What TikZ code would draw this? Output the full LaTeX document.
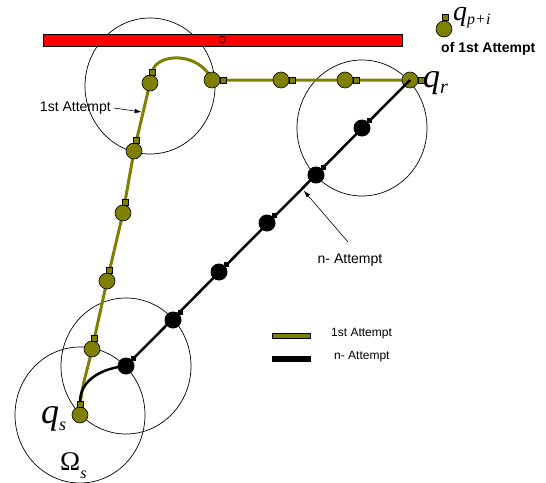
\documentclass[tikz,border=0pt]{standalone}
\usepackage{fontspec}
\setmainfont{Liberation Sans}
\newfontfamily\tms{Liberation Serif}
\usetikzlibrary{arrows.meta,backgrounds,calc}
\definecolor{olivec}{RGB}{128,128,0}
\pgfdeclarelayer{bg}
\pgfdeclarelayer{onl}
\pgfdeclarelayer{bln}
\pgfsetlayers{bg,onl,bln,main}
\begin{document}
\begin{tikzpicture}[x=1pt,y=-1pt,
  onode/.style={circle,draw=black,line width=0.6pt,fill=olivec,minimum size=16pt,inner sep=0pt},
  bnode/.style={circle,fill=black,minimum size=17pt,inner sep=0pt},
  osq/.style={rectangle,draw=black,line width=0.5pt,fill=olivec,minimum size=6pt,inner sep=0pt},
  bsq/.style={rectangle,fill=black,minimum size=5pt,inner sep=0pt},
  oline/.style={draw=olivec,line width=3pt},
  bline/.style={draw=black,line width=2.5pt},
  ring/.style={draw=black,line width=0.7pt},
  lbl/.style={font=\fontsize{14}{16}\selectfont,inner sep=0pt},
  leglbl/.style={font=\fontsize{12}{14}\selectfont,inner sep=0pt,anchor=west},
  legbox/.style={draw=black,line width=0.5pt,minimum width=38pt,minimum height=5.5pt,inner sep=0pt},
  pointer/.style={draw=black,line width=0.6pt,-{Latex[length=7pt,width=4.5pt]}},
  qtxt/.style={inner sep=0pt,anchor=base west}]
\useasboundingbox (0,0) rectangle (546,482);

% olive nodes (1st attempt)
\begin{pgfonlayer}{onl}
\node[onode] (qs) at (80,415) {};
\node[onode] (o1) at (92,349) {};
\node[onode] (o2) at (107,281) {};
\node[onode] (o3) at (123,213) {};
\node[onode] (o4) at (134,151) {};
\node[onode] (o5) at (150,83) {};
\node[onode] (o6) at (212,80) {};
\node[onode] (o7) at (281,80) {};
\node[onode] (o8) at (345,80) {};
\node[onode] (qr) at (410,80) {};
\node[osq] (sqs) at (80,404) {};
\node[osq] (s1) at (94.4,338.3) {};
\node[osq] (s2) at (109.5,270.3) {};
\node[osq] (s3) at (125,202) {};
\node[osq] (s4) at (136.5,140.3) {};
\node[osq] (s5) at (152,72) {};
\node[osq] (s6) at (223,80) {};
\node[osq] (s7) at (292,80) {};
\node[osq] (s8) at (356,80) {};
\node[osq] (sqr) at (421,80) {};
% legend marker
\node[osq] (lsq) at (445,17.5) {};
\node[onode] (lnode) at (444,29) {};
\end{pgfonlayer}

% black nodes (n- attempt)
\node[bnode] (b1) at (126,366) {};
\node[bnode] (b2) at (173,320) {};
\node[bnode] (b3) at (219,272) {};
\node[bnode] (b4) at (267,223) {};
\node[bnode] (b5) at (316,175) {};
\node[bnode] (b6) at (362,128) {};
\node[bsq] (t1) at ($(b1)+(7.5,-7.5)$) {};
\node[bsq] (t2) at ($(b2)+(7.5,-7.5)$) {};
\node[bsq] (t3) at ($(b3)+(7.5,-7.5)$) {};
\node[bsq] (t4) at ($(b4)+(7.5,-7.5)$) {};
\node[bsq] (t5) at ($(b5)+(7.5,-7.5)$) {};
\node[bsq] (t6) at ($(b6)+(7.5,-7.5)$) {};

% circles, obstacle and olive path
\begin{pgfonlayer}{bg}
\draw[ring] ($(o5.center)+(0,3)$) ellipse [x radius=65, y radius=68];
\draw[ring] (b6.center) ellipse [x radius=65, y radius=68];
\draw[ring] (qs.center) ellipse [x radius=65, y radius=68];
\draw[ring] (b1.center) ellipse [x radius=65, y radius=68];
\node[draw=black,fill=red,line width=0.6pt,minimum width=359pt,minimum height=12pt,inner sep=0pt,
      font=\fontsize{10}{10}\selectfont] (bar) at (222.5,40) {O};
\draw[oline] (qs.center) to[out=90,in=-102] (o1.center) -- (o2.center) -- (o3.center)
   -- (o4.center) -- (o5.center);
\draw[oline] (s5.center) .. controls (157,52) and (200,52) .. (o6.center)
   -- (o7.center) -- (o8.center) -- (qr.center);
\end{pgfonlayer}

% black path
\begin{pgfonlayer}{bln}
\coordinate (bstart) at (80,402);
\draw[bline] (bstart) to[out=90,in=185] (b1.center) -- (qr.center);
\end{pgfonlayer}

% labels
\node[lbl,anchor=east] (lab1) at (111,108) {1st Attempt};
\coordinate (p1) at ($(o4.center)!0.57!(o5.center)$);
\draw[pointer,shorten >=1.5pt] ($(lab1.east)+(3,0)$) -- (p1);

\node[lbl] (lab2) at (350,260) {n- Attempt};
\coordinate (a2s) at (348,242);
\coordinate (p2) at ($(b1.center)!0.62!(qr.center)$);
\draw[pointer,shorten >=2.5pt] (a2s) -- (p2);

% legend
\node[legbox,fill=olivec] (lg1) at (291,335.5) {};
\node[legbox,fill=black] (lg2) at (291,358.5) {};
\node[leglbl] (lt1) at (331,334) {1st Attempt};
\node[leglbl] (lt2) at (334,357) {n- Attempt};

% math-like labels
\node[qtxt] (lqpi) at (453,20) {{\tms\fontsize{28}{28}\selectfont\itshape q}\raisebox{-4pt}{\tms\fontsize{16}{16}\selectfont\itshape p+i}};
\node[inner sep=0pt,anchor=west,font=\fontsize{14}{16}\selectfont\bfseries] (lof) at (441,48.5) {of 1st Attempt};
\node[qtxt] (lqr) at (423,87) {{\tms\fontsize{34}{34}\selectfont\itshape q}\raisebox{-6pt}{\tms\fontsize{20}{20}\selectfont\itshape r}};
\node[qtxt] (lqs) at (41,423) {{\tms\fontsize{36}{36}\selectfont\itshape q}\raisebox{-7pt}{\tms\fontsize{18}{18}\selectfont\itshape s}};
\node[qtxt] (lom) at (60,470.5) {{\tms\fontsize{27}{27}\selectfont Ω}\raisebox{-8pt}{\tms\fontsize{16}{16}\selectfont\itshape s}};
\end{tikzpicture}
\end{document}
